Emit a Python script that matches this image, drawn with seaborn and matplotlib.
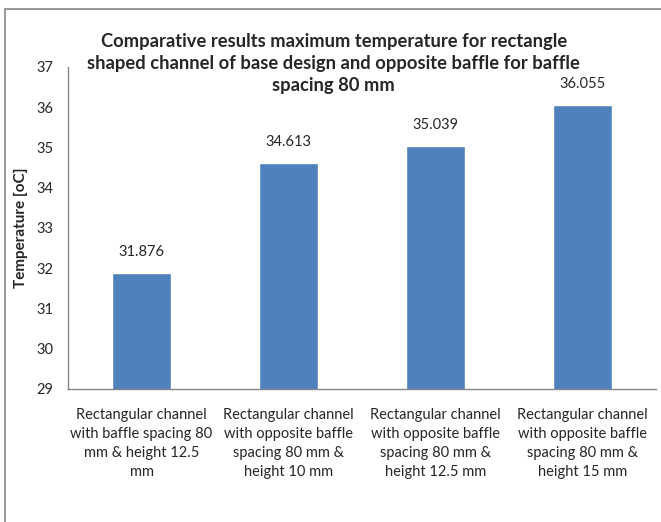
import seaborn as sns
import matplotlib.pyplot as plt
import pandas as pd
from matplotlib.patches import Rectangle

labels = [
    "Rectangular channel\nwith baffle spacing 80\nmm & height 12.5\nmm",
    "Rectangular channel\nwith opposite baffle\nspacing 80 mm &\nheight 10 mm",
    "Rectangular channel\nwith opposite baffle\nspacing 80 mm &\nheight 12.5 mm",
    "Rectangular channel\nwith opposite baffle\nspacing 80 mm &\nheight 15 mm",
]
temps = [31.876, 34.613, 35.039, 36.055]
title_lines = [
    "Comparative results maximum temperature for rectangle",
    "shaped channel of base design and opposite baffle for baffle",
    "spacing 80 mm",
]

sns.set_style("white")
plt.rcParams['font.family'] = ['Lato', 'DejaVu Sans']

df = pd.DataFrame({"case": labels, "temp": temps})

fig = plt.figure(figsize=(6.61, 5.22), dpi=100)
ax = fig.add_axes([0.103, 0.255, 0.889, 0.617])
sns.barplot(x="case", y="temp", data=df, color="#4F81BD", saturation=1, width=0.4, ax=ax)

ax.set_ylim(29, 37)
ax.set_yticks(range(29, 38))
ax.tick_params(axis='y', labelsize=10.5, length=0, pad=10.5)
ax.tick_params(axis='x', labelsize=10.5, length=0, pad=14)
for t in ax.get_xticklabels():
    t.set_linespacing(1.45)
ax.set_xlabel("")
ax.set_ylabel("Temperature [oC]", fontsize=11, fontweight='bold', labelpad=6)
for s in ["top", "right"]:
    ax.spines[s].set_visible(False)
for s in ["left", "bottom"]:
    ax.spines[s].set_color("#868686")
    ax.spines[s].set_linewidth(1)

for p, v in zip(ax.patches, temps):
    ax.annotate(f"{v:.3f}", (p.get_x() + p.get_width() / 2, v), xytext=(0, 10),
                textcoords="offset points", ha="center", va="bottom", fontsize=10.5)

for i, line in enumerate(title_lines):
    fig.text(0.505, 1 - (41 + 22 * i) / 522, line, ha="center", va="center",
             fontsize=13.2, fontweight="bold")

fig.patches.append(Rectangle((5 / 661, -0.1), 1.2, 1 - 9 / 522 + 0.1, transform=fig.transFigure,
                             fill=False, edgecolor="#868686", linewidth=1.2))

fig.savefig("out.png", dpi=100)
